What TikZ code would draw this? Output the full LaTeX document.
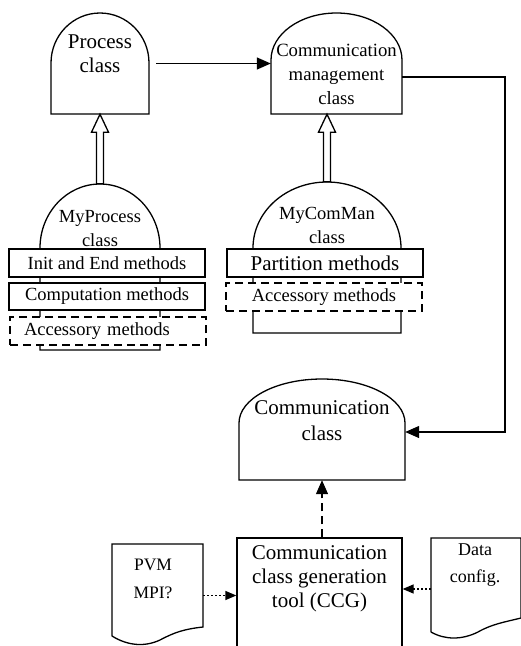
\documentclass[tikz,border=0pt]{standalone}
\usepackage{fontspec}
\setmainfont{Liberation Serif}
\usetikzlibrary{arrows.meta,calc}
\begin{document}
\begin{tikzpicture}[x=1pt,y=-1pt,
  lw/.style={line width=1.3pt},
  big/.style={font=\fontsize{21}{24}\selectfont},
  med/.style={font=\fontsize{18.5}{24}\selectfont},
  small/.style={font=\fontsize{17.5}{28}\selectfont},
  region/.style={inner sep=0pt, draw=none, minimum width=#1},
  mbox/.style={draw, lw, fill=white, minimum width=196pt, inner sep=0pt},
  dsh/.style={dash pattern=on 8pt off 5pt},
  dot/.style={dash pattern=on 2pt off 2pt},
  tip/.style={-{Triangle[length=14pt,width=12pt]}},
  stip/.style={-{Triangle[length=11pt,width=9pt]}},
  hollow/.style={lw, fill=white, line join=miter}
]
\useasboundingbox (0,0) rectangle (521,646);
\clip (0,0) rectangle (521,646);

% ---------- Process class
\node[region=98pt, minimum height=101pt] (proc) at (100,63.5) {};
\draw[lw] (51,114) -- (51,63) arc[start angle=180,end angle=360,x radius=49,y radius=50] -- (149,114) -- cycle;
\node[big, align=center] (proctxt) at (100,54) {Process\\class};

% ---------- Communication management class
\node[region=131pt, minimum height=101pt] (cm) at (336.5,63.5) {};
\draw[lw] (271,114) -- (271,60) arc[start angle=180,end angle=360,x radius=65.5,y radius=47] -- (402,114) -- cycle;
\node[font=\fontsize{18.7}{24}\selectfont, align=center] (cmtxt) at (336.5,74) {Communication\\management\\class};

% ---------- MyProcess class
\node[region=120pt, minimum height=166pt] (mp) at (100,267) {};
\draw[lw] (40,350) -- (40,248) arc[start angle=180,end angle=360,x radius=60,y radius=64] -- (160,350) -- cycle;
\node[med, align=center] (mptxt) at (100,229) {MyProcess\\class};
\node[mbox, med, minimum height=28pt] (mpinit) at (107,263) {Init and End methods};
\node[mbox, med, minimum height=27pt] (mpcomp) at (107,296.5) {Computation methods};
\node[mbox, med, dsh, minimum height=28pt, text width=168pt, inner xsep=14pt, align=left] (mpacc) at (108,331) {Accessory methods};

% ---------- MyComMan class
\node[region=148pt, minimum height=151pt] (mc) at (327,257.5) {};
\draw[lw] (253,333) -- (253,248) arc[start angle=180,end angle=360,x radius=74,y radius=66] -- (401,333) -- cycle;
\node[med, align=center] (mctxt) at (327,225) {MyComMan\\class};
\node[mbox, big, minimum height=28pt] (mcpart) at (325,263) {Partition methods};
\node[mbox, med, dsh, minimum height=28pt] (mcacc) at (324,297) {Accessory methods};

% ---------- Communication class
\node[region=166pt, minimum height=101pt] (comm) at (322,429.5) {};
\draw[lw] (239,480) -- (239,423) arc[start angle=180,end angle=360,x radius=83,y radius=44] -- (405,480) -- cycle;
\node[font=\fontsize{21}{26}\selectfont, align=center] (commtxt) at (322,421) {Communication\\class};

% ---------- CCG tool
\node[draw, lw, inner sep=0pt, minimum width=165pt, minimum height=132pt] (ccg) at (319.5,604) {};
\node[big, align=center] (ccgtxt) at (319.5,579) {Communication\\class generation\\tool (CCG)};

% ---------- PVM document
\node[region=91pt, minimum height=101pt] (pvm) at (157.5,595.5) {};
\draw[lw] (112,636) -- (112,544) -- (203,544) -- (203,627)
  .. controls (185,629) and (175,632) .. (160,640)
  .. controls (145,647) and (128,646) .. (112,636);
\node[small, align=center] (pvmtxt) at (153,579) {PVM\\MPI?};

% ---------- Data config document
\node[region=90pt, minimum height=100pt] (data) at (476,589) {};
\draw[lw] (431,632) -- (431,538) -- (521,538) -- (521,618)
  .. controls (505,622) and (492,624) .. (478,632)
  .. controls (462,640) and (445,640) .. (431,632);
\node[font=\fontsize{18}{27}\selectfont, align=center] (datatxt) at (475,565.5) {Data\\config.};

% ---------- connectors
\draw[lw, tip, shorten <=7pt] (proc.east) -- (cm.west);
\coordinate (bend) at (505,77);
\draw[lw, tip] ([yshift=-13.5pt]cm.east) -- (bend) |- ([yshift=-2.5pt]comm.east);

\draw[hollow] (mp.north |- proc.south) -- ++(8.5,18) -- ++(-5,0) -- ($(mp.north)+(3.5,0)$)
  -- ($(mp.north)+(-3.5,0)$) -- ($(mp.north |- proc.south)+(-3.5,18)$) -- ++(-5,0) -- cycle;
\draw[hollow] (mc.north |- cm.south) -- ++(8.5,18) -- ++(-5,0) -- ($(mc.north)+(3.5,0)$)
  -- ($(mc.north)+(-3.5,0)$) -- ($(mc.north |- cm.south)+(-3.5,18)$) -- ++(-5,0) -- cycle;

\draw[lw, dsh, tip] (comm.south |- ccg.north) -- (comm.south);
\draw[lw, dot, stip] (pvm.east) -- (pvm.east -| ccg.west);
\draw[lw, dot, stip] (data.west) -- (data.west -| ccg.east);
\end{tikzpicture}
\end{document}
